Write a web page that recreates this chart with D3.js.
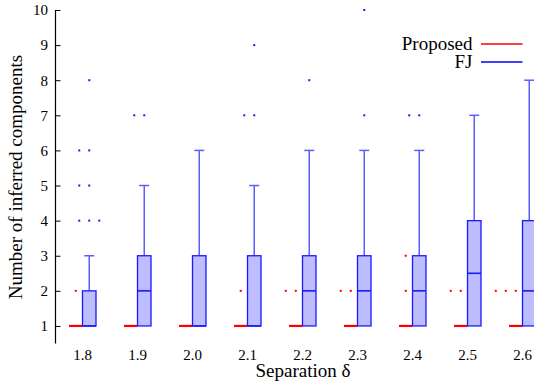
<!DOCTYPE html>
<html><head><meta charset="utf-8">
<script src="https://cdn.jsdelivr.net/npm/d3@7"></script>
<style>
html,body{margin:0;padding:0;background:#fff;overflow:hidden}
svg text{font-family:"Liberation Serif","Tinos","Times New Roman",Times,"Nimbus Roman","DejaVu Serif",serif !important;fill:#000}
</style></head>
<body><svg id="chart" width="534" height="385"></svg>
<script>
// ---- data ----
const categories = ["1.8","1.9","2.0","2.1","2.2","2.3","2.4","2.5","2.6"];
const separations = [1.8,1.9,2.0,2.1,2.2,2.3,2.4,2.5,2.6];
const yTicks = [1,2,3,4,5,6,7,8,9,10];

// FJ box statistics
const fjLow    = [1,1,1,1,1,1,1,1,1];
const fjQ1     = [1,1,1,1,1,1,1,1,1];
const fjMedian = [1,2,1,1,2,2,2,2.5,2];
const fjQ3     = [2,3,3,3,3,3,3,4,4];
const fjHigh   = [3,5,6,5,6,6,6,7,8];
// outliers: [category index, value, count]
const fjOutliers = [[0,4,3],[0,5,2],[0,6,2],[0,8,1],[1,7,2],[3,7,2],[3,9,1],[4,8,1],[5,7,1],[5,10,1],[6,7,2]];

// Proposed box statistics
const propLow    = [1,1,1,1,1,1,1,1,1];
const propQ1     = [1,1,1,1,1,1,1,1,1];
const propMedian = [1,1,1,1,1,1,1,1,1];
const propQ3     = [1,1,1,1,1,1,1,1,1];
const propHigh   = [1,1,1,1,1,1,1,1,1];
const propOutliers = [[0,2,1],[3,2,1],[4,2,2],[5,2,2],[6,2,1],[6,3,1],[7,2,2],[8,2,4]];

const seriesNames = ["Proposed","FJ"];

// ---- drawing ----
const svg = d3.select("#chart");
const FONT = "'Liberation Serif','Tinos','Times New Roman',Times,serif";
const x = d3.scaleLinear().domain([1.75, 2.7]).range([55, 577.5]);
const y = d3.scaleLinear().domain([0.5, 10]).range([343.5, 10]);
const boxW = 13.5, capW = 10, jitter = 10;

// y axis
const yAxis = d3.axisRight(y).tickValues(yTicks).tickSize(5).tickFormat(d3.format("d"));
const ga = svg.append("g").attr("transform","translate(55,0)").call(yAxis).attr("font-family",FONT);
ga.select(".domain").attr("d","M0.5,10V343.5").attr("stroke","#000").attr("stroke-width",1.2);
ga.selectAll(".tick line").attr("stroke","#000").attr("x1",0.5).attr("x2",5.5);
ga.selectAll(".tick text").attr("x",-7).attr("text-anchor","end").attr("font-size",15)
  .attr("font-family",FONT);

// x tick labels
svg.append("g").selectAll("text").data(categories).join("text")
  .attr("x",(d,i)=>x(separations[i])).attr("y",359.5).attr("font-family",FONT)
  .attr("text-anchor","middle").attr("font-size",15).text(d=>d);

// axis labels
svg.append("text").attr("x",303).attr("y",377).attr("text-anchor","middle").attr("font-family",FONT)
  .attr("font-size",19).text("Separation δ");
svg.append("text").attr("transform","translate(21.5,177) rotate(-90)").attr("font-family",FONT)
  .attr("text-anchor","middle").attr("font-size",19).text("Number of inferred components");

function offsets(n){ const o=[]; for(let k=0;k<n;k++){ o.push(k===0?0:(k%2===1?-Math.ceil(k/2):Math.ceil(k/2))); } return o; }

function drawSeries(stats, outliers, shift, cfg){
  const g = svg.append("g");
  const cx = i => x(separations[i]) + shift;
  // outliers
  outliers.forEach(([i,v,n])=>{
    offsets(n).forEach(k=>{
      g.append("rect").attr("x",cx(i)+k*jitter-1).attr("y",y(v)-1).attr("width",2).attr("height",2)
        .attr("fill",cfg.stroke);
    });
  });
  separations.forEach((s,i)=>{
    const c = cx(i);
    const lo=stats.low[i], q1=stats.q1[i], md=stats.med[i], q3=stats.q3[i], hi=stats.high[i];
    if(hi>q3){
      g.append("line").attr("x1",c).attr("x2",c).attr("y1",y(q3)).attr("y2",y(hi))
        .attr("stroke",cfg.whisker).attr("stroke-width",1.5);
      g.append("line").attr("x1",c-capW/2).attr("x2",c+capW/2).attr("y1",y(hi)).attr("y2",y(hi))
        .attr("stroke",cfg.whisker).attr("stroke-width",1.5);
    }
    if(lo<q1){
      g.append("line").attr("x1",c).attr("x2",c).attr("y1",y(q1)).attr("y2",y(lo))
        .attr("stroke",cfg.whisker).attr("stroke-width",1.5);
      g.append("line").attr("x1",c-capW/2).attr("x2",c+capW/2).attr("y1",y(lo)).attr("y2",y(lo))
        .attr("stroke",cfg.whisker).attr("stroke-width",1.5);
    }
    g.append("rect").attr("x",c-boxW/2).attr("y",y(q3)).attr("width",boxW)
      .attr("height",Math.max(0,y(q1)-y(q3)))
      .attr("fill",cfg.fill).attr("stroke",cfg.stroke).attr("stroke-width",cfg.sw);
    g.append("line").attr("x1",c-boxW/2).attr("x2",c+boxW/2).attr("y1",y(md)).attr("y2",y(md))
      .attr("stroke",cfg.stroke).attr("stroke-width",cfg.medW);
  });
}

drawSeries({low:propLow,q1:propQ1,med:propMedian,q3:propQ3,high:propHigh}, propOutliers, -boxW/2,
  {stroke:"#ff0000",whisker:"#ff4444",fill:"none",sw:1.2,medW:2.2});
drawSeries({low:fjLow,q1:fjQ1,med:fjMedian,q3:fjQ3,high:fjHigh}, fjOutliers, boxW/2,
  {stroke:"#1a1aff",whisker:"#5c5cff",fill:"#bdbdff",sw:1.3,medW:1.6});

// legend
const legendColors = ["#ff0000","#0000ff"];
const lg = svg.append("g");
seriesNames.forEach((name,i)=>{
  const yy = 44 + i*18;
  lg.append("text").attr("x",472.5).attr("y",yy+6).attr("text-anchor","end").attr("font-family",FONT)
    .attr("font-size",19).text(name);
  lg.append("line").attr("x1",481).attr("x2",522.5).attr("y1",yy).attr("y2",yy)
    .attr("stroke",legendColors[i]).attr("stroke-width",1.5);
});
</script></body></html>
